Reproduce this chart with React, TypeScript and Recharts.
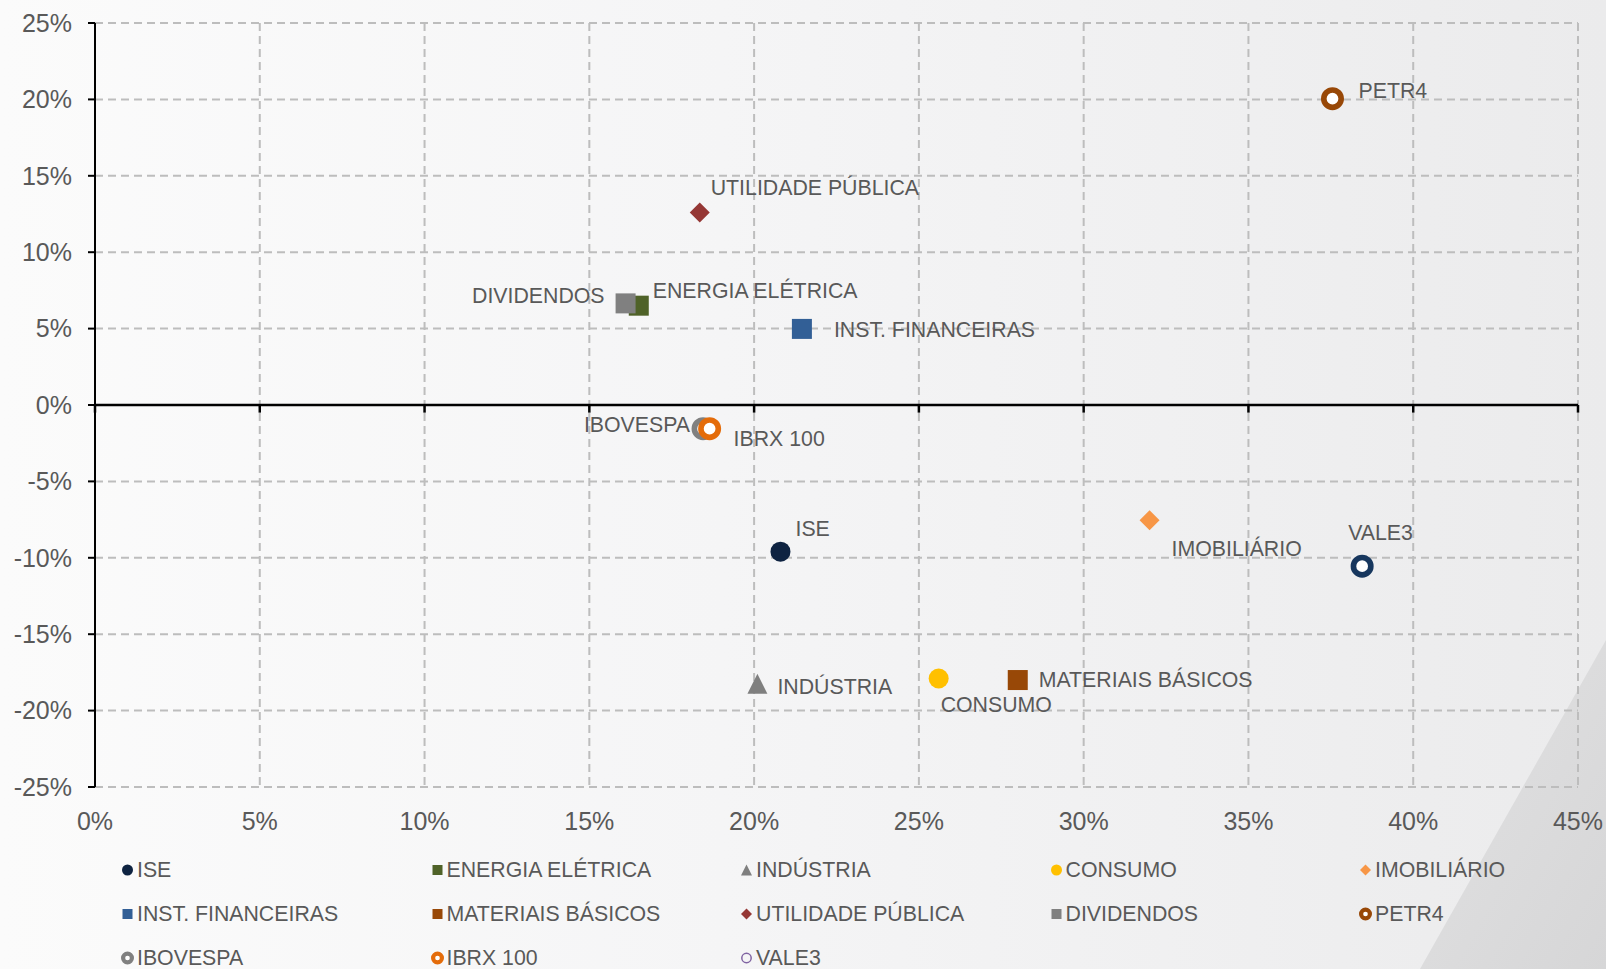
import React from 'react';
import { ScatterChart, Scatter, XAxis, YAxis, CartesianGrid, ReferenceLine } from 'recharts';

// volatility (x) vs. return (y), both in %
const seriesNames = [
  'ISE',
  'ENERGIA ELÉTRICA',
  'INDÚSTRIA',
  'CONSUMO',
  'IMOBILIÁRIO',
  'INST. FINANCEIRAS',
  'MATERIAIS BÁSICOS',
  'UTILIDADE PÚBLICA',
  'DIVIDENDOS',
  'PETR4',
  'IBOVESPA',
  'IBRX 100',
  'VALE3',
];
const volatility = [20.8, 16.5, 20.1, 25.6, 32.0, 21.45, 28.0, 18.35, 16.1, 37.55, 18.45, 18.65, 38.45];
const returns = [-9.6, 6.5, -18.25, -17.9, -7.55, 4.98, -18.0, 12.6, 6.65, 20.05, -1.55, -1.55, -10.55];

const xTicks = [0, 5, 10, 15, 20, 25, 30, 35, 40, 45];
const yTicks = [-25, -20, -15, -10, -5, 0, 5, 10, 15, 20, 25];

type Kind = 'circle' | 'square' | 'triangle' | 'diamond' | 'ring' | 'hollow';

const markerStyle: Record<string, { kind: Kind; color: string; legendKind?: Kind; legendColor?: string }> = {
  ISE: { kind: 'circle', color: '#0e2341' },
  'ENERGIA ELÉTRICA': { kind: 'square', color: '#4f6228' },
  'INDÚSTRIA': { kind: 'triangle', color: '#7f7f7f' },
  CONSUMO: { kind: 'circle', color: '#ffc000' },
  'IMOBILIÁRIO': { kind: 'diamond', color: '#f79646' },
  'INST. FINANCEIRAS': { kind: 'square', color: '#325f96' },
  'MATERIAIS BÁSICOS': { kind: 'square', color: '#984807' },
  'UTILIDADE PÚBLICA': { kind: 'diamond', color: '#953735' },
  DIVIDENDOS: { kind: 'square', color: '#808080' },
  PETR4: { kind: 'ring', color: '#984807' },
  IBOVESPA: { kind: 'ring', color: '#808080' },
  'IBRX 100': { kind: 'ring', color: '#e46c0a' },
  VALE3: { kind: 'ring', color: '#17375e', legendKind: 'hollow', legendColor: '#8064a2' },
};

// label offsets relative to marker centre
const labelPlacement: Record<string, { dx: number; dy: number; anchor?: 'start' | 'end' }> = {
  ISE: { dx: 15, dy: -23 },
  'ENERGIA ELÉTRICA': { dx: 14, dy: -15 },
  'INDÚSTRIA': { dx: 20, dy: 3 },
  CONSUMO: { dx: 2, dy: 26 },
  'IMOBILIÁRIO': { dx: 22, dy: 29 },
  'INST. FINANCEIRAS': { dx: 32, dy: 1 },
  'MATERIAIS BÁSICOS': { dx: 21, dy: 0 },
  'UTILIDADE PÚBLICA': { dx: 11, dy: -24 },
  DIVIDENDOS: { dx: -21, dy: -7, anchor: 'end' },
  PETR4: { dx: 26, dy: -8 },
  IBOVESPA: { dx: -13, dy: -4, anchor: 'end' },
  'IBRX 100': { dx: 24, dy: 10 },
  VALE3: { dx: -14, dy: -33 },
};

const FONT = "'Liberation Sans', Arial, sans-serif";
const TEXT = '#595959';

function Marker({
  kind,
  color,
  cx,
  cy,
  size,
  ringFrac = 0.245,
}: {
  kind: Kind;
  color: string;
  cx: number;
  cy: number;
  size: number;
  ringFrac?: number;
}) {
  const h = size / 2;
  switch (kind) {
    case 'circle':
      return <circle cx={cx} cy={cy} r={h} fill={color} />;
    case 'square':
      return <rect x={cx - h} y={cy - h} width={size} height={size} fill={color} />;
    case 'triangle':
      return <polygon points={`${cx},${cy - h} ${cx + h},${cy + h} ${cx - h},${cy + h}`} fill={color} />;
    case 'diamond':
      return <polygon points={`${cx},${cy - h} ${cx + h},${cy} ${cx},${cy + h} ${cx - h},${cy}`} fill={color} />;
    case 'ring': {
      const sw = size * ringFrac;
      return <circle cx={cx} cy={cy} r={(size - sw) / 2} fill="#ffffff" stroke={color} strokeWidth={sw} />;
    }
    case 'hollow':
      return <circle cx={cx} cy={cy} r={h - 0.8} fill="none" stroke={color} strokeWidth={1.5} />;
  }
  return null;
}

function pointShape(name: string) {
  return (props: any) => {
    const { cx, cy } = props;
    const st = markerStyle[name];
    const lp = labelPlacement[name];
    const size = st.kind === 'ring' ? 23 : 20;
    return (
      <g>
        <Marker kind={st.kind} color={st.color} cx={cx} cy={cy} size={size} />
        <text
          x={cx + lp.dx}
          y={cy + lp.dy}
          textAnchor={lp.anchor || 'start'}
          dominantBaseline="central"
          fontSize={21.3}
          fontFamily={FONT}
          fill={TEXT}
        >
          {name}
        </text>
      </g>
    );
  };
}

function ChartLegend() {
  return (
    <div style={{ position: 'absolute', left: 0, top: 0, width: 1606, height: 969, pointerEvents: 'none' }}>
      {seriesNames.map((name, i) => {
        const st = markerStyle[name];
        const col = i % 5;
        const row = Math.floor(i / 5);
        const kind = st.legendKind || st.kind;
        const color = st.legendColor || st.color;
        const size = kind === 'ring' ? 13 : kind === 'square' ? 10 : 11;
        return (
          <div
            key={name}
            style={{
              position: 'absolute',
              left: 121 + col * 309.5,
              top: 870 + row * 44 - 13,
              height: 26,
              display: 'flex',
              alignItems: 'center',
              fontFamily: FONT,
              fontSize: 21.3,
              color: TEXT,
              whiteSpace: 'nowrap',
            }}
          >
            <svg width={14} height={14} style={{ marginRight: 2 }}>
              <Marker kind={kind} color={color} cx={6.5} cy={7} size={size} ringFrac={0.32} />
            </svg>
            {name}
          </div>
        );
      })}
    </div>
  );
}

export default function App() {
  const series = seriesNames.map((name, i) => ({
    name,
    data: [{ x: volatility[i], y: returns[i] }],
  }));

  return (
    <div
      style={{
        position: 'absolute',
        left: 0,
        top: 0,
        width: 1606,
        height: 969,
        overflow: 'hidden',
        background: 'linear-gradient(90deg, #fbfbfb 0%, #f5f5f6 45%, #ebebec 100%)',
      }}
    >
      <svg width={1606} height={969} style={{ position: 'absolute', left: 0, top: 0 }}>
        <defs>
          <linearGradient id="corner" x1="0" y1="0" x2="1" y2="1">
            <stop offset="0%" stopColor="#e2e2e3" />
            <stop offset="100%" stopColor="#d6d6d7" />
          </linearGradient>
        </defs>
        <polygon points="1606,640 1606,969 1420,969" fill="url(#corner)" />
      </svg>
      <div style={{ position: 'absolute', left: 0, top: 0 }}>
        <ScatterChart width={1606} height={969} margin={{ top: 23, right: 28, left: 0, bottom: 0 }}>
          <CartesianGrid stroke="#bdbdbd" strokeWidth={2} strokeDasharray="8 5" />
          <XAxis
            type="number"
            dataKey="x"
            domain={[0, 45]}
            ticks={xTicks}
            tickFormatter={(v) => `${v}%`}
            axisLine={false}
            tickLine={false}
            tickSize={0}
            tickMargin={25}
            height={182}
            tick={{ fontSize: 25, fill: TEXT, fontFamily: FONT }}
          />
          <YAxis
            type="number"
            dataKey="y"
            domain={[-25, 25]}
            ticks={yTicks}
            tickFormatter={(v) => `${v}%`}
            axisLine={{ stroke: '#000', strokeWidth: 2 }}
            tickLine={{ stroke: '#000', strokeWidth: 2 }}
            tickSize={7}
            tickMargin={16}
            width={95}
            tick={{ fontSize: 25, fill: TEXT, fontFamily: FONT }}
          />
          <ReferenceLine y={0} stroke="#000" strokeWidth={2.6} />
          {xTicks.map((v) => (
            <ReferenceLine
              key={v}
              segment={[
                { x: v, y: 0 },
                { x: v, y: -0.5 },
              ]}
              stroke="#000"
              strokeWidth={2.5}
            />
          ))}
          {series.map((s) => (
            <Scatter
              key={s.name}
              name={s.name}
              data={s.data}
              shape={pointShape(s.name)}
              isAnimationActive={false}
            />
          ))}
        </ScatterChart>
      </div>
      <ChartLegend />
    </div>
  );
}
